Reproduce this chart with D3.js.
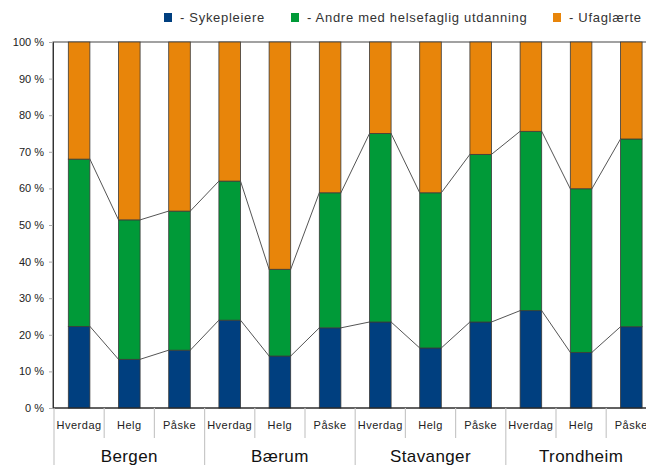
<!DOCTYPE html>
<html>
<head>
<meta charset="utf-8">
<script src="https://cdn.jsdelivr.net/npm/d3@7/dist/d3.min.js"></script>
<style>
  html, body { margin: 0; padding: 0; background: #fff; }
  svg { display: block; font-family: "Liberation Sans", Arial, sans-serif; }
</style>
</head>
<body>
<svg id="chart" width="646" height="465"></svg>
<script>
// Staffing mix (%) per city and period
const cities = ["Bergen", "Bærum", "Stavanger", "Trondheim"];
const periods = ["Hverdag", "Helg", "Påske"];
const sykepleiere = [22.3, 13.3, 15.8, 24.0, 14.2, 21.9, 23.5, 16.4, 23.5, 26.6, 15.2, 22.2];
const andre       = [45.7, 38.1, 38.0, 38.0, 23.7, 36.9, 51.5, 42.4, 45.8, 49.0, 44.7, 51.3];
const ufaglaerte  = [32.0, 48.6, 46.2, 38.0, 62.1, 41.2, 25.0, 41.2, 30.7, 24.4, 40.1, 26.5];
const seriesNames = ["- Sykepleiere", "- Andre med helsefaglig utdanning", "- Ufaglærte"];
const seriesColors = ["#003f7f", "#009a38", "#e8850a"];
const yTicks = [0, 10, 20, 30, 40, 50, 60, 70, 80, 90, 100];

const svg = d3.select("#chart");

const categories = [];
cities.forEach(c => periods.forEach(p => categories.push(c + "|" + p)));

const rows = categories.map((key, i) => ({
  key, city: key.split("|")[0], period: key.split("|")[1],
  s0: sykepleiere[i], s1: andre[i], s2: ufaglaerte[i]
}));

const stack = d3.stack().keys(["s0", "s1", "s2"]);
const stacked = stack(rows);

const plotLeft = 53, plotTop = 42, plotBottom = 408;
const catStart = 54, step = 50.2;

const x = d3.scaleBand()
  .domain(categories)
  .range([catStart, catStart + step * categories.length])
  .paddingInner(0.57).paddingOuter(0.285);

const y = d3.scaleLinear().domain([0, 100]).range([plotBottom, plotTop]);

// plot frame
svg.append("rect")
  .attr("x", plotLeft).attr("y", plotTop)
  .attr("width", 700).attr("height", plotBottom - plotTop)
  .attr("fill", "none").attr("stroke", "#444").attr("stroke-width", 1);

// y axis
const yAxis = d3.axisLeft(y).tickValues(yTicks).tickSize(4).tickFormat(d => d + " %");
const gy = svg.append("g").attr("transform", `translate(${plotLeft},0)`).call(yAxis);
gy.select(".domain").attr("stroke", "#333");
gy.selectAll(".tick line").attr("stroke", "#aaa");
gy.selectAll(".tick text")
  .attr("x", -9)
  .attr("font-size", 11).attr("fill", "#222")
  .attr("font-family", "Liberation Sans, Arial, sans-serif");

// bars
const layer = svg.append("g")
  .selectAll("g").data(stacked).join("g")
  .attr("fill", (d, i) => seriesColors[i]);

layer.selectAll("rect")
  .data(d => d)
  .join("rect")
  .attr("x", d => x(d.data.key))
  .attr("width", x.bandwidth())
  .attr("y", d => y(d[1]))
  .attr("height", d => y(d[0]) - y(d[1]))
  .attr("stroke", "#3a3a3a")
  .attr("stroke-width", 0.8);

// series lines joining stack tops between neighbouring bars
const lineGen = d3.line();
[0, 1].forEach(si => {
  const s = stacked[si];
  for (let i = 0; i < s.length - 1; i++) {
    const a = s[i], b = s[i + 1];
    svg.append("path")
      .attr("d", lineGen([
        [x(a.data.key) + x.bandwidth(), y(a[1])],
        [x(b.data.key), y(b[1])]
      ]))
      .attr("fill", "none").attr("stroke", "#555").attr("stroke-width", 1);
  }
});

// bottom axis line
svg.append("line")
  .attr("x1", plotLeft).attr("x2", 646)
  .attr("y1", plotBottom).attr("y2", plotBottom)
  .attr("stroke", "#222").attr("stroke-width", 1);

// category axis: period labels and separators
const gx = svg.append("g");
categories.forEach((key, i) => {
  const left = catStart + step * i;
  const isGroupStart = i % periods.length === 0;
  gx.append("line")
    .attr("x1", left).attr("x2", left)
    .attr("y1", plotBottom).attr("y2", isGroupStart ? 465 : 438)
    .attr("stroke", "#c8c8c8").attr("stroke-width", 1.2);
  gx.append("text")
    .attr("x", x(key) + x.bandwidth() / 2)
    .attr("y", 429)
    .attr("text-anchor", "middle")
    .attr("font-size", 11).attr("letter-spacing", 0.5).attr("fill", "#222")
    .text(rows[i].period);
});

// city labels
cities.forEach((c, ci) => {
  const first = categories[ci * periods.length];
  const last = categories[ci * periods.length + periods.length - 1];
  const cx = (x(first) + x(last) + x.bandwidth()) / 2;
  gx.append("text")
    .attr("x", cx).attr("y", 462)
    .attr("text-anchor", "middle")
    .attr("font-size", 17).attr("letter-spacing", 0.4).attr("fill", "#111")
    .text(c);
});

// legend
const legendX = [164, 291, 553];
const legend = svg.append("g");
seriesNames.forEach((name, i) => {
  legend.append("rect")
    .attr("x", legendX[i]).attr("y", 13)
    .attr("width", 8).attr("height", 9)
    .attr("fill", seriesColors[i]);
  legend.append("text")
    .attr("x", legendX[i] + 16).attr("y", 22)
    .attr("font-size", 13).attr("letter-spacing", 0.7).attr("fill", "#333")
    .text(name);
});
</script>
</body>
</html>
